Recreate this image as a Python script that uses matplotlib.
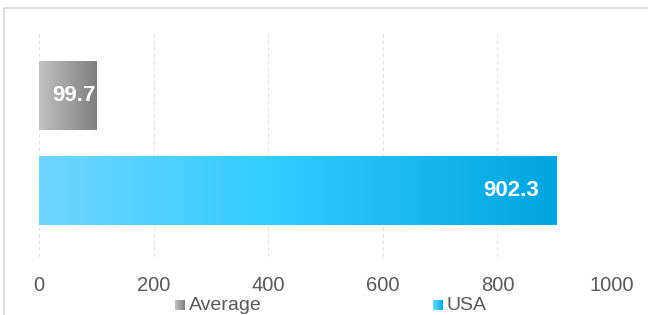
import numpy as np
import matplotlib.pyplot as plt
from matplotlib.colors import LinearSegmentedColormap
from matplotlib.patches import Rectangle

# data
categories = ["USA", "Average"]
values = [902.3, 99.7]
labels = ["902.3", "99.7"]
ticks = [0, 200, 400, 600, 800, 1000]

# gradient colours per bar
grad_usa = LinearSegmentedColormap.from_list(
    "usa", [(0.0, "#6fd5ff"), (0.45, "#33ccff"), (1.0, "#00a5e0")])
grad_avg = LinearSegmentedColormap.from_list(
    "avg", [(0.0, "#c2c2c2"), (1.0, "#7f7f7f")])
cmaps = [grad_usa, grad_avg]

plt.rcParams["font.family"] = ["Liberation Sans", "DejaVu Sans"]

fig = plt.figure(figsize=(6.48, 3.15), dpi=100)
W, H = 648, 315

# outer chart frame (partly outside the crop)
fig.add_artist(Rectangle((4 / W, -0.2), 1.2, (H - 8) / H + 0.2,
                         transform=fig.transFigure, fill=False,
                         edgecolor="#d9d9d9", linewidth=1.2))

ax = fig.add_axes([39 / W, (H - 257) / H, (612 - 39) / W, (257 - 30) / H])

ypos = np.arange(len(categories))
bar_h = 0.72
bars = ax.barh(ypos, values, height=bar_h, color="none", zorder=2)

grad = np.linspace(0, 1, 256).reshape(1, -1)
for b, cm in zip(bars, cmaps):
    x0, y0 = b.get_x(), b.get_y()
    im = ax.imshow(grad, cmap=cm, aspect="auto", zorder=2,
                   extent=[x0, x0 + b.get_width(), y0, y0 + b.get_height()])
    im.set_clip_path(b)

for b, lab in zip(bars, labels):
    w = b.get_width()
    off = -12 if w > 500 else 0
    ax.annotate(lab, xy=(w, b.get_y() + b.get_height() / 2),
                xytext=(off, 0), textcoords="offset points",
                ha="right", va="center", color="white",
                fontsize=16, fontweight="bold", zorder=3)

ax.set_xlim(0, 1000)
ax.set_ylim(-0.70, 1.69)
ax.set_xticks(ticks)
ax.set_xticklabels([str(t) for t in ticks])
ax.set_yticks([])
ax.tick_params(axis="x", length=0, pad=14, labelsize=14.5, labelcolor="#595959")
ax.grid(axis="x", color="#e0e0e0", linestyle=(0, (3, 3)), linewidth=0.8, zorder=0)
for s in ax.spines.values():
    s.set_visible(False)

# legend at the bottom edge
leg_items = [("Average", grad_avg, 175), ("USA", grad_usa, 433)]
for name, cm, xpx in leg_items:
    sq = fig.add_axes([xpx / W, (H - 310) / H, 10 / W, 10 / H])
    sq.imshow(grad, cmap=cm, aspect="auto")
    sq.axis("off")
    fig.text((xpx + 14) / W, (H - 310) / H, name, ha="left", va="baseline",
             fontsize=14, color="#595959")

fig.savefig("out.png", dpi=100)
